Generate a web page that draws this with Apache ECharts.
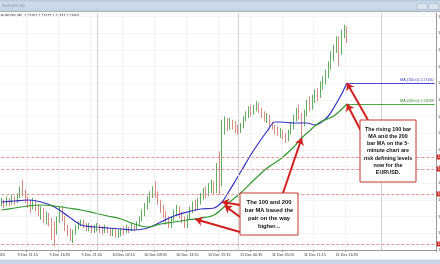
<!DOCTYPE html>
<html><head><meta charset="utf-8">
<script src="https://cdn.jsdelivr.net/npm/echarts@6/dist/echarts.min.js"></script>
<style>html,body{margin:0;padding:0;background:#fff;overflow:hidden}#c{width:440px;height:264px}</style>
</head><body><div id="c"></div>
<script>
// ---- data ----
const symbolName = 'EURUSD,M5';
const headerPrices = ['1.17461', '1.17477', '1.17437', '1.17463'];
const firstDateLabel = '9 Dec 2025';
const tickLabels = ['9 Dec 11:15','9 Dec 16:35','9 Dec 21:55','10 Dec 03:15','10 Dec 08:35','10 Dec 13:55','10 Dec 19:15','11 Dec 00:35','11 Dec 05:55','11 Dec 11:15','11 Dec 16:35'];
const firstTickIndex = 10;
const tickStep = 12;
const categoryCount = 164;
// [open, close, low, high]
const candles = [
[1.1644,1.1645,1.1642,1.1647],[1.1645,1.1643,1.1641,1.1646],[1.1643,1.1646,1.1642,1.1648],[1.1646,1.1644,1.1642,1.1647],
[1.1644,1.1647,1.1643,1.1649],[1.1647,1.1645,1.1643,1.1648],[1.1645,1.1648,1.1644,1.1650],[1.1648,1.1652,1.1647,1.1654],
[1.1652,1.1650,1.1648,1.1658],[1.1650,1.1646,1.1644,1.1652],[1.1646,1.1644,1.1641,1.1648],[1.1644,1.1641,1.1638,1.1646],
[1.1641,1.1645,1.1640,1.1647],[1.1645,1.1642,1.1639,1.1646],[1.1642,1.1638,1.1636,1.1643],[1.1638,1.1640,1.1634,1.1642],
[1.1640,1.1635,1.1632,1.1641],[1.1635,1.1637,1.1631,1.1639],[1.1637,1.1633,1.1630,1.1638],[1.1633,1.1630,1.1622,1.1635],
[1.1630,1.1628,1.1618,1.1633],[1.1628,1.1634,1.1625,1.1636],[1.1634,1.1640,1.1632,1.1642],[1.1640,1.1635,1.1633,1.1642],
[1.1635,1.1630,1.1627,1.1636],[1.1630,1.1627,1.1624,1.1631],[1.1627,1.1624,1.1621,1.1629],[1.1624,1.1626,1.1620,1.1628],
[1.1626,1.1629,1.1625,1.1631],[1.1629,1.1631,1.1628,1.1633],[1.1631,1.1633,1.1630,1.1634],[1.1633,1.1631,1.1629,1.1634],
[1.1631,1.1629,1.1627,1.1632],[1.1629,1.1630,1.1627,1.1632],[1.1630,1.1628,1.1626,1.1631],[1.1628,1.1629,1.1626,1.1631],
[1.1629,1.1630,1.1627,1.1632],[1.1630,1.1628,1.1626,1.1631],[1.1628,1.1627,1.1625,1.1630],[1.1627,1.1629,1.1626,1.1631],
[1.1629,1.1628,1.1626,1.1630],[1.1628,1.1626,1.1624,1.1629],[1.1626,1.1627,1.1624,1.1629],[1.1627,1.1625,1.1623,1.1628],
[1.1625,1.1626,1.1623,1.1628],[1.1626,1.1628,1.1624,1.1629],[1.1628,1.1627,1.1625,1.1630],[1.1627,1.1629,1.1626,1.1631],
[1.1629,1.1628,1.1626,1.1630],[1.1628,1.1630,1.1627,1.1632],[1.1630,1.1629,1.1627,1.1631],[1.1629,1.1631,1.1628,1.1633],
[1.1631,1.1634,1.1630,1.1636],[1.1634,1.1638,1.1633,1.1640],[1.1638,1.1642,1.1636,1.1644],[1.1642,1.1646,1.1640,1.1648],
[1.1646,1.1649,1.1644,1.1651],[1.1649,1.1652,1.1647,1.1654],[1.1652,1.1650,1.1647,1.1657],[1.1650,1.1645,1.1643,1.1651],
[1.1645,1.1641,1.1638,1.1646],[1.1641,1.1637,1.1635,1.1643],[1.1637,1.1634,1.1631,1.1639],[1.1634,1.1631,1.1629,1.1636],
[1.1631,1.1634,1.1629,1.1636],[1.1634,1.1638,1.1633,1.1640],[1.1638,1.1641,1.1636,1.1643],[1.1641,1.1638,1.1635,1.1642],
[1.1638,1.1634,1.1632,1.1639],[1.1634,1.1631,1.1629,1.1636],[1.1631,1.1635,1.1629,1.1637],[1.1635,1.1640,1.1634,1.1642],
[1.1640,1.1643,1.1638,1.1645],[1.1643,1.1641,1.1639,1.1646],[1.1641,1.1645,1.1640,1.1647],[1.1645,1.1648,1.1643,1.1650],
[1.1648,1.1651,1.1646,1.1653],[1.1651,1.1649,1.1647,1.1654],[1.1649,1.1653,1.1648,1.1656],[1.1653,1.1655,1.1650,1.1658],
[1.1655,1.1652,1.1649,1.1657],[1.1652,1.1662,1.1650,1.1668],[1.1662,1.1656,1.1649,1.1675],[1.1656,1.1688,1.1654,1.1694],
[1.1688,1.1692,1.1685,1.1696],[1.1692,1.1690,1.1687,1.1695],[1.1690,1.1693,1.1688,1.1695],[1.1693,1.1691,1.1688,1.1694],
[1.1691,1.1689,1.1686,1.1693],[1.1689,1.1687,1.1685,1.1691],[1.1687,1.1690,1.1686,1.1692],[1.1690,1.1694,1.1689,1.1696],
[1.1694,1.1697,1.1693,1.1699],[1.1697,1.1700,1.1695,1.1702],[1.1700,1.1699,1.1696,1.1703],[1.1699,1.1701,1.1697,1.1703],
[1.1701,1.1703,1.1699,1.1705],[1.1703,1.1700,1.1698,1.1704],[1.1700,1.1698,1.1695,1.1701],[1.1698,1.1695,1.1693,1.1699],
[1.1695,1.1696,1.1692,1.1698],[1.1696,1.1692,1.1690,1.1697],[1.1692,1.1690,1.1688,1.1693],[1.1690,1.1688,1.1685,1.1691],
[1.1688,1.1686,1.1684,1.1690],[1.1686,1.1687,1.1683,1.1689],[1.1687,1.1684,1.1682,1.1688],[1.1684,1.1682,1.1680,1.1686],
[1.1682,1.1686,1.1681,1.1688],[1.1686,1.1690,1.1685,1.1692],[1.1690,1.1695,1.1688,1.1697],[1.1695,1.1699,1.1693,1.1701],
[1.1699,1.1697,1.1694,1.1703],[1.1697,1.1692,1.1683,1.1698],[1.1692,1.1698,1.1690,1.1700],[1.1698,1.1704,1.1696,1.1706],
[1.1704,1.1701,1.1699,1.1708],[1.1701,1.1706,1.1700,1.1709],[1.1706,1.1710,1.1704,1.1712],[1.1710,1.1708,1.1705,1.1713],
[1.1708,1.1714,1.1707,1.1717],[1.1714,1.1718,1.1712,1.1720],[1.1718,1.1721,1.1715,1.1724],[1.1721,1.1726,1.1719,1.1729],
[1.1726,1.1732,1.1724,1.1735],[1.1732,1.1736,1.1729,1.1739],[1.1736,1.1742,1.1734,1.1744],[1.1742,1.1735,1.1726,1.1744],
[1.1735,1.1745,1.1733,1.1748],[1.1745,1.1749,1.1743,1.1751],[1.1749,1.1746,1.1740,1.1750]
];
const ma100Idx = [0,5,10,15,20,25,30,35,40,45,50,55,60,65,70,75,80,83,85,88,90,95,100,103,105,110,115,118,120,123,125,128,130];
const ma100 = [1.16446,1.16452,1.16458,1.16446,1.16416,1.16362,1.16308,1.16296,1.1629,1.16284,1.16278,1.1629,1.16326,1.16362,1.16386,1.16404,1.1641,1.16446,1.16494,1.16572,1.16626,1.16758,1.16872,1.16926,1.16926,1.1692,1.1692,1.16908,1.1692,1.16962,1.1701,1.17094,1.1716];
const ma200Idx = [0,5,10,15,20,25,30,35,40,45,50,55,60,65,70,75,80,85,90,95,100,105,110,113,115,120,125,130];
const ma200 = [1.16398,1.1641,1.16422,1.16428,1.16422,1.1641,1.16398,1.1638,1.16362,1.16344,1.16314,1.16296,1.16314,1.16326,1.16338,1.1635,1.16368,1.16434,1.165,1.16578,1.1665,1.16704,1.16776,1.1683,1.1686,1.16926,1.16962,1.17034];
const ma100Label = 'MA (100,0) 1.17160';
const ma200Label = 'MA (200,0) 1.17034';
const redLevels = [1.16716, 1.16644, 1.16494, 1.16194];
const currentPrice = 1.17463;
const separatorIdx = [36, 89, 143];
const boxTop = ['The rising 100 bar','MA and the 200','bar MA on the 5-','minute chart are','risk defining levels','now for the','EURUSD.'];
const boxBottom = ['The 100 and 200','bar MA based the','pair on the way','higher...'];

// ---- build ----
const categories = new Array(categoryCount).fill('');
tickLabels.forEach((t, k) => { categories[firstTickIndex + k * tickStep] = t; });
const ma100Data = ma100Idx.map((i, k) => [i, ma100[k]]);
const ma200Data = ma200Idx.map((i, k) => [i, ma200[k]]);
const lastIdx = candles.length - 1;
const ma100Last = ma100[ma100.length - 1];
const ma200Last = ma200[ma200.length - 1];
const FONT = 'Liberation Sans, Arial, sans-serif';
const RED = '#d21f1f';
const endIdx = categoryCount - 1;

function arrow(from, toCoord) {
  return [
    { x: from[0], y: from[1], symbol: 'none', lineStyle: { color: RED, width: 2, type: 'solid' }, label: { show: false } },
    { coord: toCoord, symbol: 'arrow', symbolSize: 7 }
  ];
}
function hLevel(v, lineStyle, label) {
  return [
    { coord: [0, v], symbol: 'none', lineStyle: lineStyle, label: label },
    { coord: [endIdx, v], symbol: 'none' }
  ];
}
function maAt(idxArr, valArr, i) { return valArr[idxArr.indexOf(i)]; }
const tagLabel = (txt, bg) => ({ show: true, position: 'end', distance: 2, formatter: txt, fontSize: 4, color: '#fff', backgroundColor: bg, padding: [1, 1, 0, 1], fontFamily: FONT });

const chart = echarts.init(document.getElementById('c'), null, { renderer: 'canvas' });
chart.setOption({
  animation: false,
  backgroundColor: '#ffffff',
  textStyle: { fontFamily: FONT },
  grid: { left: 0, right: 4, top: 13, bottom: 14, containLabel: false, outerBoundsMode: 'none' },
  xAxis: {
    type: 'category', data: categories, boundaryGap: true,
    axisLine: { lineStyle: { color: '#9a9a9a', width: 1 } },
    axisTick: { show: true, length: 2, interval: (i, v) => v !== '', lineStyle: { color: '#9a9a9a' } },
    axisLabel: { interval: 0, fontSize: 3.8, color: '#333', margin: 3, fontFamily: FONT },
    splitLine: { show: true, interval: (i, v) => v !== '', lineStyle: { color: '#f1f1f1', width: 1 } }
  },
  yAxis: {
    type: 'value', position: 'right', min: 1.16158, max: 1.1758, interval: 0.001,
    axisLine: { show: true, lineStyle: { color: '#9a9a9a' } },
    axisTick: { show: false },
    axisLabel: { fontSize: 4, color: '#444', margin: 2, formatter: v => v.toFixed(5), fontFamily: FONT },
    splitLine: { show: true, lineStyle: { color: '#f4f4f4' } }
  },
  series: [
    {
      type: 'candlestick', data: candles, barWidth: 1.3,
      itemStyle: { color: '#5fae5f', color0: '#d98a80', borderColor: '#5fae5f', borderColor0: '#d98a80', borderWidth: 1 }
    },
    {
      type: 'line', name: 'MA100', data: ma100Data, smooth: 0.35, symbol: 'none',
      lineStyle: { color: '#3434c4', width: 1.2 },
      markLine: {
        silent: true, symbol: 'none',
        data: [
          ...redLevels.map(v => hLevel(v, { color: '#e39494', type: [3, 2], width: 1 }, tagLabel(v.toFixed(5), '#d02828'))),
          hLevel(currentPrice, { opacity: 0 }, tagLabel(currentPrice.toFixed(5), '#111')),
          ...separatorIdx.map(i => [
            { coord: [i, 1.16158], symbol: 'none', lineStyle: { color: '#d2d2d2', type: 'solid', width: 1 }, label: { show: false } },
            { coord: [i, 1.1758], symbol: 'none' }
          ]),
          [
            { coord: [lastIdx, ma100Last], symbol: 'none', lineStyle: { color: '#4848cc', width: 1, type: 'solid' },
              label: { show: true, position: 'insideEndTop', formatter: ma100Label, fontSize: 3.8, color: '#3a3ac0', distance: 1 } },
            { coord: [endIdx, ma100Last], symbol: 'none' }
          ]
        ]
      }
    },
    {
      type: 'line', name: 'MA200', data: ma200Data, smooth: 0.35, symbol: 'none',
      lineStyle: { color: '#2f9a2f', width: 1.2 },
      markLine: {
        silent: true, symbol: 'none',
        data: [
          [
            { coord: [lastIdx, ma200Last], symbol: 'none', lineStyle: { color: '#48a848', width: 1, type: 'solid' },
              label: { show: true, position: 'insideEndTop', formatter: ma200Label, fontSize: 3.8, color: '#2f8f2f', distance: 1 } },
            { coord: [endIdx, ma200Last], symbol: 'none' }
          ],
          arrow([368, 120], [lastIdx, ma100Last]),
          arrow([361, 131], [lastIdx, ma200Last]),
          arrow([283, 193], [113, maAt(ma200Idx, ma200, 113)]),
          arrow([240, 205], [83, maAt(ma100Idx, ma100, 83)]),
          arrow([240, 217], [84, 1.16424]),
          arrow([240, 232], [73, 1.16342])
        ]
      }
    }
  ],
  graphic: [
    { type: 'rect', shape: { x: 0, y: 0, width: 440, height: 10.5 }, style: { fill: new echarts.graphic.LinearGradient(0, 0, 0, 1, [{ offset: 0, color: '#b8c9dc' }, { offset: 0.3, color: '#cfdcea' }, { offset: 1, color: '#c6d5e6' }]) }, silent: true },
    { type: 'rect', shape: { x: 0, y: 10.5, width: 440, height: 1.5 }, style: { fill: '#a9b3bd' }, silent: true },
    { type: 'text', x: 2, y: 3.5, style: { text: symbolName, fontSize: 4, fill: '#8595a8', fontFamily: FONT }, silent: true },
    { type: 'rect', shape: { x: 417, y: 3.5, width: 10, height: 6, r: 1 }, style: { fill: '#dbe5ef', stroke: '#9fb0c2', lineWidth: 0.6 }, silent: true },
    { type: 'rect', shape: { x: 429, y: 3.5, width: 10, height: 6, r: 1 }, style: { fill: '#dbe5ef', stroke: '#9fb0c2', lineWidth: 0.6 }, silent: true },
    { type: 'text', x: 1, y: 13.5, style: { text: symbolName + '  ' + headerPrices.join(' '), fontSize: 3.6, fill: '#222', fontFamily: FONT }, silent: true },
    { type: 'text', x: 5, y: 253, style: { text: firstDateLabel, fontSize: 3.8, fill: '#333', align: 'right', fontFamily: FONT }, silent: true },
    { type: 'rect', shape: { x: 0, y: 259.5, width: 440, height: 5 }, style: { fill: '#c8d7e8' }, silent: true },
    { type: 'rect', shape: { x: 360, y: 120, width: 56, height: 62 }, style: { fill: '#fff', stroke: '#c0392b', lineWidth: 1 }, silent: true, z: 100 },
    { type: 'text', x: 388, y: 151, z: 101, silent: true, style: { text: boxTop.join('\n'), fontSize: 5.4, fontWeight: 'bold', lineHeight: 7.1, fill: '#111', align: 'center', verticalAlign: 'middle', fontFamily: FONT } },
    { type: 'rect', shape: { x: 240, y: 193, width: 58, height: 42 }, style: { fill: '#fff', stroke: '#c0392b', lineWidth: 1 }, silent: true, z: 100 },
    { type: 'text', x: 269, y: 214.5, z: 101, silent: true, style: { text: boxBottom.join('\n'), fontSize: 5.8, fontWeight: 'bold', lineHeight: 8, fill: '#111', align: 'center', verticalAlign: 'middle', fontFamily: FONT } }
  ]
});
</script></body></html>
